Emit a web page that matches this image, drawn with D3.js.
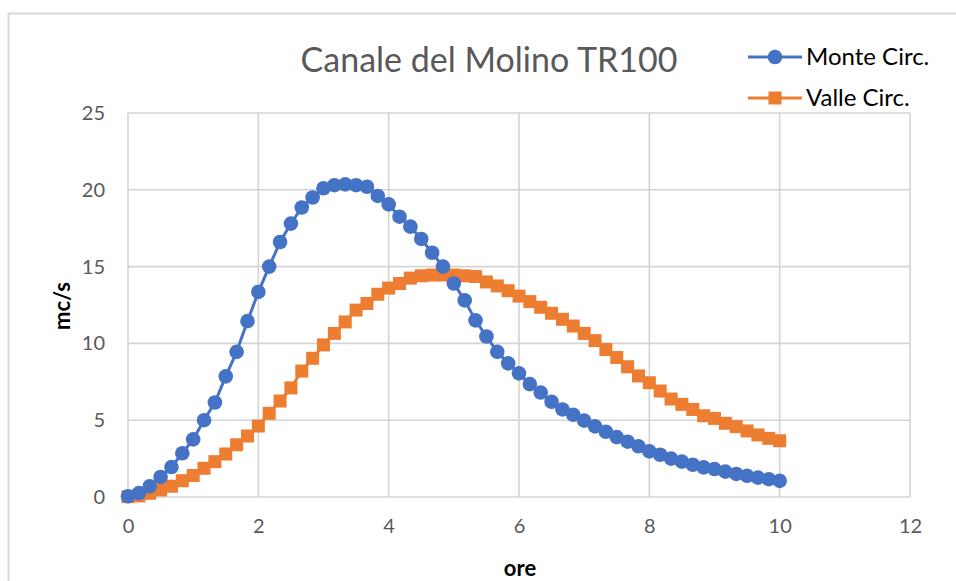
<!DOCTYPE html>
<html><head><meta charset="utf-8">
<script src="https://cdn.jsdelivr.net/npm/d3@7"></script>
<style>body{margin:0;background:#fff}svg{display:block}</style>
</head><body>
<svg id="c" width="956" height="581"></svg>
<script>
const title = "Canale del Molino TR100";
const xLabel = "ore";
const yLabel = "mc/s";
const seriesNames = ["Monte Circ.", "Valle Circ."];
const xTicks = [0, 2, 4, 6, 8, 10, 12];
const yTicks = [0, 5, 10, 15, 20, 25];
const stepHours = 1 / 6;
const monte = [0.05,0.25,0.7,1.3,1.95,2.85,3.75,5.0,6.15,7.85,9.45,11.45,13.35,15.0,16.6,17.8,18.85,19.5,20.1,20.3,20.35,20.3,20.2,19.6,19.05,18.25,17.6,16.8,15.9,15.0,13.9,12.8,11.5,10.45,9.45,8.7,8.05,7.35,6.8,6.2,5.7,5.35,4.97,4.6,4.25,3.9,3.6,3.3,2.97,2.75,2.5,2.3,2.1,1.93,1.82,1.65,1.5,1.38,1.26,1.16,1.05];
const valle = [0.02,0.07,0.24,0.46,0.7,1.06,1.4,1.87,2.3,2.8,3.4,3.97,4.62,5.45,6.25,7.1,8.2,9.03,9.9,10.65,11.4,12.17,12.6,13.2,13.6,13.9,14.25,14.4,14.45,14.45,14.45,14.4,14.35,14.0,13.74,13.43,13.08,12.72,12.35,11.96,11.57,11.13,10.65,10.18,9.6,9.08,8.48,7.88,7.44,6.9,6.38,6.03,5.7,5.29,5.12,4.8,4.58,4.3,4.04,3.82,3.66];
const colors = ["#4472C4", "#ED7D31"];

const svg = d3.select("#c");
const font = "Lato, 'Open Sans', sans-serif";
const L = 128, R = 910, T = 113, B = 497;
const x = d3.scaleLinear().domain([0, 12]).range([L, R]);
const y = d3.scaleLinear().domain([0, 25]).range([B, T]);

// outer border
svg.append("rect").attr("x", 8.5).attr("y", 13.5).attr("width", 960).attr("height", 600)
  .attr("fill", "none").attr("stroke", "#d9d9d9").attr("stroke-width", 2);

// gridlines
const g = svg.append("g");
g.selectAll(".hg").data(yTicks).join("line")
  .attr("x1", L).attr("x2", R).attr("y1", d => y(d)).attr("y2", d => y(d))
  .attr("stroke", "#d4d4d4").attr("stroke-width", 1.6);
g.selectAll(".vg").data(xTicks).join("line")
  .attr("y1", T).attr("y2", B).attr("x1", d => x(d)).attr("x2", d => x(d))
  .attr("stroke", "#d4d4d4").attr("stroke-width", 1.6);

// axes with d3 axis generators (labels only)
const yAxis = svg.append("g").attr("transform", `translate(${L},0)`)
  .call(d3.axisLeft(y).tickValues(yTicks).tickSize(0).tickPadding(23));
const xAxis = svg.append("g").attr("transform", `translate(0,${B})`)
  .call(d3.axisBottom(x).tickValues(xTicks).tickSize(0).tickPadding(22));
[yAxis, xAxis].forEach(a => {
  a.select(".domain").remove();
  a.selectAll("text").attr("font-family", font).attr("font-size", 20).attr("fill", "#595959");
});

// series
const data = [monte, valle];
const line = d3.line().x((d, i) => x(i * stepHours)).y(d => y(d));
data.forEach((s, k) => {
  svg.append("path").datum(s).attr("d", line).attr("fill", "none")
    .attr("stroke", colors[k]).attr("stroke-width", 3).attr("stroke-linejoin", "round");
});
svg.append("g").selectAll("rect").data(valle).join("rect")
  .attr("x", (d, i) => x(i * stepHours) - 6.5).attr("y", d => y(d) - 6.5)
  .attr("width", 13).attr("height", 13).attr("fill", colors[1]);
svg.append("g").selectAll("circle").data(monte).join("circle")
  .attr("cx", (d, i) => x(i * stepHours)).attr("cy", d => y(d))
  .attr("r", 7.3).attr("fill", colors[0]);

// title
svg.append("text").attr("x", 489).attr("y", 72).attr("text-anchor", "middle")
  .attr("font-family", font).attr("font-size", 34).attr("fill", "#595959").text(title);

// axis titles
svg.append("text").attr("x", 520).attr("y", 576).attr("text-anchor", "middle")
  .attr("font-family", font).attr("font-weight", "bold").attr("font-size", 22).text(xLabel);
svg.append("text").attr("transform", "translate(70,306) rotate(-90)").attr("text-anchor", "middle")
  .attr("font-family", font).attr("font-weight", "bold").attr("font-size", 22).text(yLabel);

// legend
const leg = svg.append("g");
seriesNames.forEach((n, k) => {
  const ly = 57 + k * 41;
  leg.append("line").attr("x1", 748).attr("x2", 802).attr("y1", ly).attr("y2", ly)
    .attr("stroke", colors[k]).attr("stroke-width", 3);
  if (k === 0) leg.append("circle").attr("cx", 775).attr("cy", ly).attr("r", 7.3).attr("fill", colors[k]);
  else leg.append("rect").attr("x", 775 - 6.5).attr("y", ly - 6.5).attr("width", 13).attr("height", 13).attr("fill", colors[k]);
  leg.append("text").attr("x", 806).attr("y", ly).attr("dy", "0.35em")
    .attr("font-family", font).attr("font-size", 24).attr("fill", "#000").text(n);
});
</script>
</body></html>
